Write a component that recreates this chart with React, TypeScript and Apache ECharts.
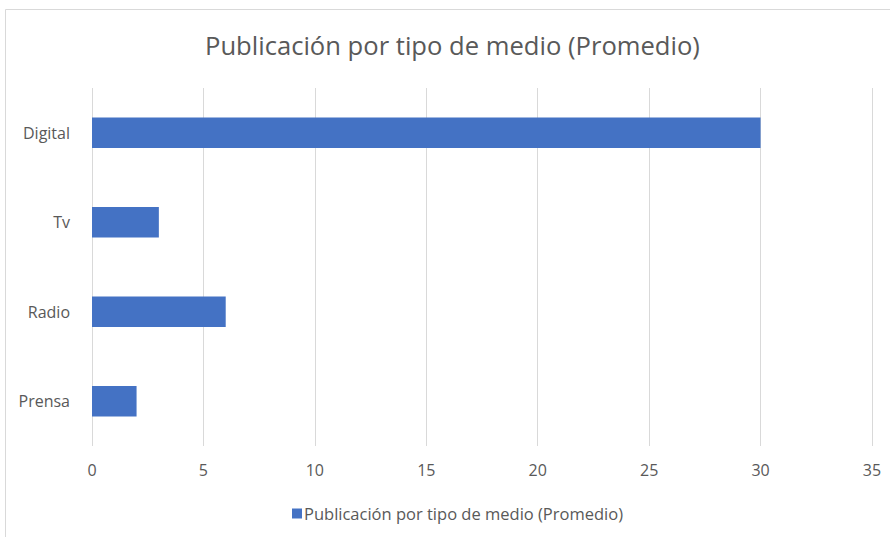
import React, { useEffect, useRef } from "react";
import * as echarts from "echarts";

const categories = ["Prensa", "Radio", "Tv", "Digital"];
const values = [2, 6, 3, 30];
const seriesName = "Publicación por tipo de medio (Promedio)";
const titleText = "Publicación por tipo de medio (Promedio)";

export default function App() {
  const ref = useRef<HTMLDivElement>(null);
  useEffect(() => {
    document.body.style.margin = "0";
    const chart = echarts.init(ref.current!, null, { renderer: "svg" });
    const font = "'Open Sans', 'Segoe UI', sans-serif";
    chart.setOption({
      animation: false,
      backgroundColor: "#ffffff",
      title: {
        text: titleText,
        left: 200,
        top: 27,
        textStyle: { fontFamily: font, fontSize: 25.6, fontWeight: "normal", color: "#595959" },
      },
      legend: {
        left: 287,
        top: 500,
        itemWidth: 10,
        itemHeight: 10,
        itemGap: 10,
        icon: "rect",
        textStyle: { fontFamily: font, fontSize: 16.5, color: "#595959", padding: [0, 0, 0, -3] },
        data: [seriesName],
      },
      graphic: [
        {
          type: "rect",
          shape: { x: 5.5, y: 9.5, width: 1000, height: 1000 },
          style: { fill: "none", stroke: "#d9d9d9", lineWidth: 1 },
          silent: true,
        },
      ],
      grid: { left: 92, right: 18, top: 88, bottom: 91, containLabel: false },
      xAxis: {
        type: "value",
        min: 0,
        max: 35,
        interval: 5,
        axisLine: { show: false },
        axisTick: { show: false },
        splitLine: { show: true, lineStyle: { color: "#d9d9d9", width: 1 } },
        axisLabel: { margin: 16, fontFamily: font, fontSize: 16, color: "#595959" },
      },
      yAxis: {
        type: "category",
        data: categories,
        axisLine: { show: false },
        axisTick: { show: false },
        axisLabel: { margin: 22, fontFamily: font, fontSize: 16, color: "#595959" },
      },
      series: [
        {
          name: seriesName,
          type: "bar",
          data: values,
          barWidth: "34%",
          itemStyle: { color: "#4472C4" },
        },
      ],
    });
    return () => chart.dispose();
  }, []);
  return <div ref={ref} style={{ width: 890, height: 537 }} />;
}
